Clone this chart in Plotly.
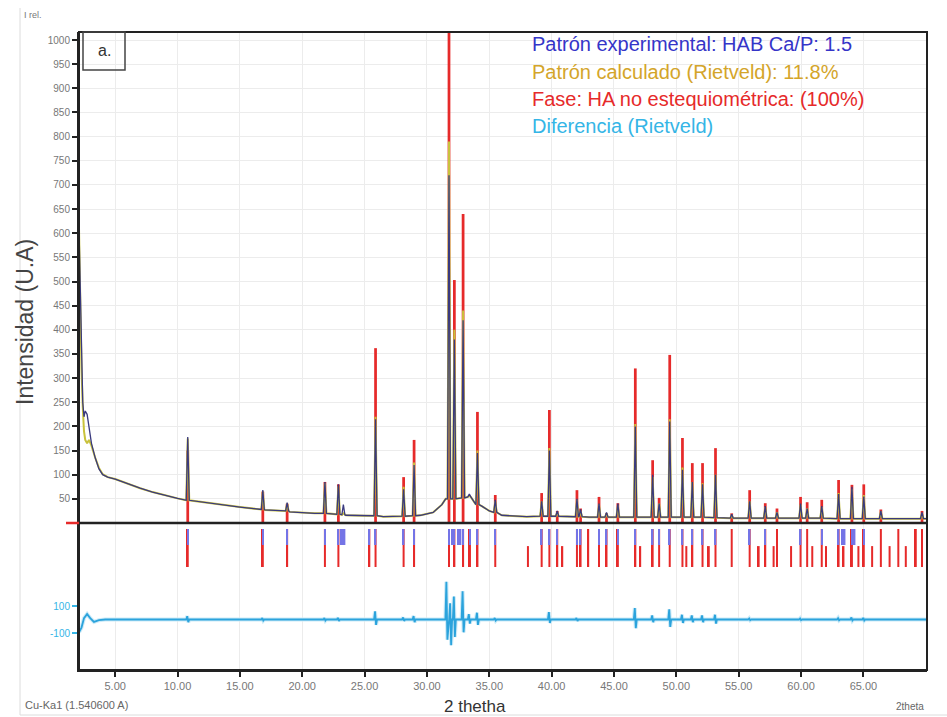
import plotly.graph_objects as go

# ---------------- DATA ----------------
# background points of the patterns (2theta, intensity)
bg_x      = [2.10, 2.20, 2.30, 2.40, 2.50, 2.60, 2.75, 2.90, 3.10, 3.40, 3.70, 4.00, 4.40, 5.00,
             6.00, 7.00, 8.00, 9.00, 10.00, 11.50, 13.00, 15.00, 17.00, 19.00, 21.00, 23.50,
             25.00, 26.50, 27.50, 29.50, 30.50, 31.20, 31.50, 33.40, 34.40, 35.00, 36.00, 38.00,
             40.50, 43.00, 47.00, 50.00, 55.00, 60.00, 65.00, 70.10]
bg_exp    = [610, 470, 330, 250, 220, 232, 225, 195, 165, 135, 112, 100, 95, 91,
             81, 72, 64, 57, 51, 45, 39, 33, 27, 23, 20, 16,
             15, 13, 14, 16, 22, 38, 50, 55, 35, 25, 16, 13,
             14, 12, 12, 12, 10, 10, 9, 9]
bg_calc   = [610, 450, 320, 240, 190, 172, 165, 172, 160, 135, 114, 101, 95, 91,
             81, 72, 64, 57, 51, 45, 39, 33, 27, 23, 20, 16,
             15, 13, 14, 16, 22, 38, 50, 52, 35, 25, 16, 13,
             14, 12, 12, 12, 10, 10, 9, 9]

# reflections: position, background level under the peak, experimental top, calculated top, phase top
peak_pos  = [10.82, 16.84, 18.79, 21.82, 22.90, 23.30, 25.88, 28.13, 28.97, 31.77, 32.20, 32.90,
             33.40, 34.05, 35.48, 39.20, 39.82, 40.45, 42.03, 42.32, 43.80, 44.40, 45.31, 46.71,
             48.10, 48.62, 49.47, 50.49, 51.28, 52.10, 53.14, 54.44, 55.88, 57.13, 58.07, 59.96,
             60.49, 61.66, 63.01, 64.08, 65.03, 66.40, 69.70]
peak_base = [47, 28, 25, 20, 18, 17, 15, 14, 15, 50, 50, 52,
             54, 38, 22, 14, 14, 14, 13, 13, 12, 12, 12, 12,
             12, 12, 12, 12, 12, 12, 11, 10, 10, 10, 10, 10,
             10, 10, 9, 9, 9, 9, 9]
peak_exp  = [178, 68, 42, 85, 80, 38, 215, 70, 120, 720, 380, 420,
             60, 145, 48, 45, 150, 25, 50, 28, 40, 22, 40, 200,
             100, 40, 210, 110, 85, 80, 100, 18, 45, 35, 22, 40,
             30, 35, 60, 75, 55, 25, 22]
peak_calc = [175, 65, 40, 82, 76, 20, 220, 75, 125, 790, 400, 440,
             56, 150, 45, 45, 155, 22, 48, 25, 38, 20, 36, 205,
             95, 40, 215, 115, 85, 82, 100, 16, 45, 33, 22, 38,
             30, 33, 62, 70, 58, 24, 20]
phase_h   = [150, 65, 40, 85, 80, 0, 362, 95, 172, 1020, 503, 640,
             0, 230, 58, 62, 234, 25, 68, 30, 54, 20, 41, 320,
             130, 52, 348, 176, 124, 124, 155, 20, 68, 41, 30, 54,
             43, 48, 89, 79, 80, 28, 25]

# reflection tick marks below the pattern
tick_red_pos = [10.82, 16.84, 18.79, 21.82, 22.90, 25.38, 25.88, 28.13, 28.97, 31.77, 32.20, 32.90,
                33.45, 34.05, 35.48, 38.10, 39.20, 39.82, 40.45, 40.85, 42.03, 42.32, 42.93, 43.80,
                44.40, 45.31, 46.71, 47.10, 48.10, 48.62, 49.47, 50.49, 50.80, 51.28, 52.10, 52.60,
                53.14, 54.44, 55.88, 56.60, 57.13, 57.80, 58.07, 59.20, 59.96, 60.49, 60.90, 61.66,
                62.00, 63.01, 63.40, 64.08, 64.60, 65.03, 65.70, 66.40, 67.10, 67.80, 68.40, 69.20, 69.70]
tick_red_len = [1, 1, 1, 1, 1, 1, 1, 1, 1, 1, 1, 1,
                1, 1, 1, 0.55, 1, 1, 1, 0.55, 1, 1, 1, 1,
                1, 1, 1, 0.55, 1, 1, 1, 1, 0.55, 1, 1, 0.55,
                1, 1, 1, 0.55, 1, 0.55, 1, 0.55, 1, 1, 0.55, 1,
                0.55, 1, 0.55, 1, 0.55, 1, 0.55, 1, 0.55, 1, 0.55, 1, 1]
tick_blue_pos = [10.82, 16.84, 18.79, 21.82, 22.90, 23.10, 23.25, 23.40, 25.38, 25.88, 28.13, 28.97,
                 31.77, 32.05, 32.20, 32.50, 32.70, 32.90, 33.45, 34.05, 35.48, 39.20, 39.82, 40.45,
                 42.03, 42.32, 43.80, 44.40, 45.31, 46.71, 48.10, 48.62, 49.47, 50.49, 51.28, 52.10,
                 53.14, 55.88, 57.13, 59.96, 61.66, 63.01, 63.30, 63.50, 64.08, 64.30, 65.03]

# difference curve: leading points, then wiggles (position, upper excursion, lower excursion)
diff_lead_x = [2.10, 2.30, 2.50, 2.75, 3.00, 3.30, 3.70, 4.20]
diff_lead_y = [-95, -60, 10, 40, 10, -18, -5, 0]
diff_pos = [10.82, 16.84, 21.82, 22.90, 25.88, 28.13, 28.97, 31.60, 31.90, 32.20, 32.90, 33.40,
            34.05, 35.48, 39.82, 42.03, 46.71, 48.10, 49.47, 50.49, 51.28, 52.10, 53.14, 55.88,
            59.96, 63.01, 64.08, 65.03]
diff_hi  = [25, 10, 10, 12, 60, 15, 25, 280, 120, 170, 210, 40,
            50, 10, 55, 10, 85, 30, 75, 35, 30, 30, 35, 8,
            8, 10, 15, 12]
diff_lo  = [-20, -8, -8, -10, -40, -10, -20, -150, -190, -130, -95, -30,
            -40, -8, -25, -10, -65, -20, -55, -25, -20, -20, -30, -5,
            -5, -6, -8, -8]

x_ticks = [5, 10, 15, 20, 25, 30, 35, 40, 45, 50, 55, 60, 65]
y_ticks = list(range(50, 1001, 50))

legend_lines = ["Patrón experimental: HAB Ca/P: 1.5",
                "Patrón calculado (Rietveld): 11.8%",
                "Fase: HA no estequiométrica: (100%)",
                "Diferencia (Rietveld)"]

# ---------------- STYLE / LAYOUT CONSTANTS ----------------
W, H = 947, 717
L, R, T, B = 79, 927, 32, 670
FONT = "Liberation Sans, Arial, sans-serif"
C_EXP, C_EXP_TXT = "#3a3a7e", "#3535c8"
C_CALC, C_CALC_TXT = "#c9c23c", "#d4a52a"
C_RED = "#e62a2a"
C_DIFF, C_DIFF_TXT = "#2ba3dc", "#35b5e6"
HALF = 0.12  # half base width of drawn peaks (deg)

Y2_ZERO_PX, Y2_SCALE = 619.5, 7.41   # difference panel mapping


def px(x):
    return (x - L) / (R - L)


def py(y):
    return (B - y) / (B - T)


def y2(pix):
    return (Y2_ZERO_PX - pix) * Y2_SCALE


MAIN_DOM0 = (B - 523) / (B - T)
MAIN_TOP = (523 - T) / 0.483


def build_curve(bx, by, pos, base, top):
    pts = [(x, y) for x, y in zip(bx, by) if all(abs(x - p) > HALF for p in pos)]
    for p, b, t in zip(pos, base, top):
        pts += [(p - HALF, b), (p, t), (p + HALF, b)]
    pts.sort()
    return [q[0] for q in pts], [q[1] for q in pts]


exp_x, exp_y = build_curve(bg_x, bg_exp, peak_pos, peak_base, peak_exp)
calc_x, calc_y = build_curve(bg_x, bg_calc, peak_pos, peak_base, peak_calc)

diff_x, diff_y = list(diff_lead_x), list(diff_lead_y)
for p, hi, lo in zip(diff_pos, diff_hi, diff_lo):
    diff_x += [p - 0.12, p - 0.04, p + 0.04, p + 0.12]
    diff_y += [0, hi, lo, 0]
diff_x.append(70.1)
diff_y.append(0)

TICK_TOP, TICK_BOT, BLUE_BOT = y2(529), y2(567), y2(545)

fig = go.Figure()

# phase sticks
fig.add_trace(go.Bar(x=peak_pos, y=phase_h, width=0.22, marker=dict(color=C_RED, line=dict(width=0)),
                     yaxis="y", hoverinfo="skip"))
# calculated and experimental patterns
fig.add_trace(go.Scatter(x=calc_x, y=calc_y, mode="lines", line=dict(color=C_CALC, width=2), yaxis="y"))
fig.add_trace(go.Scatter(x=exp_x, y=exp_y, mode="lines", line=dict(color=C_EXP, width=1.3), yaxis="y"))

# reflection ticks
fig.add_trace(go.Bar(x=tick_red_pos, y=[(TICK_TOP - TICK_BOT) * v for v in tick_red_len], base=TICK_BOT,
                     width=0.16, marker=dict(color=C_RED, line=dict(width=0)), yaxis="y2"))
fig.add_trace(go.Bar(x=tick_blue_pos, y=[TICK_TOP - BLUE_BOT] * len(tick_blue_pos), base=BLUE_BOT,
                     width=0.12, marker=dict(color="#7474e6", line=dict(width=0)), yaxis="y2"))
# difference
fig.add_trace(go.Scatter(x=diff_x, y=diff_y, mode="lines", line=dict(color="#cdebf8", width=4), yaxis="y2"))
fig.add_trace(go.Scatter(x=diff_x, y=diff_y, mode="lines", line=dict(color=C_DIFF, width=1.8), yaxis="y2"))

shapes = [
    dict(type="rect", xref="paper", yref="paper", x0=0, x1=1, y0=0, y1=1,
         line=dict(color="#222", width=2)),
    dict(type="line", xref="paper", yref="paper", x0=0, x1=1, y0=MAIN_DOM0, y1=MAIN_DOM0,
         line=dict(color="#222", width=2.5)),
    dict(type="line", xref="paper", yref="paper", x0=px(66), x1=0, y0=MAIN_DOM0, y1=MAIN_DOM0,
         line=dict(color=C_RED, width=2.5)),
    dict(type="rect", xref="paper", yref="paper", x0=px(83), x1=px(125), y0=py(70), y1=py(32),
         line=dict(color="#444", width=1.5)),
    dict(type="line", xref="paper", yref="paper", x0=px(20), x1=px(20), y0=py(715), y1=py(8),
         line=dict(color="#dcdcdc", width=1)),
    dict(type="line", xref="paper", yref="paper", x0=px(20), x1=px(947), y0=py(715), y1=py(715),
         line=dict(color="#dcdcdc", width=1)),
]


def note(text, x, y, size, color, xanchor="center", angle=0):
    return dict(text=text, x=px(x), y=py(y), xref="paper", yref="paper", xanchor=xanchor,
                yanchor="middle", showarrow=False, textangle=angle,
                font=dict(family=FONT, size=size, color=color))


ann = []
legend_colors = [C_EXP_TXT, C_CALC_TXT, C_RED, C_DIFF_TXT]
for i, (txt, col) in enumerate(zip(legend_lines, legend_colors)):
    ann.append(note(txt, 530, 44 + 27.5 * i, 20, col, xanchor="left"))
ann += [
    note("a.", 104, 51, 16, "#333"),
    note("Intensidad (U.A)", 25, 322, 23, "#444", angle=-90),
    note("I rel.", 22, 15, 9, "#777", xanchor="left"),
    note("2 thetha", 475, 706, 17, "#333"),
    note("Cu-Ka1 (1.540600 A)", 23, 705, 11, "#666", xanchor="left"),
    note("2theta", 926, 706, 10, "#666", xanchor="right"),
]

fig.update_layout(
    width=W, height=H, margin=dict(l=L, r=W - R, t=T, b=H - B),
    paper_bgcolor="white", plot_bgcolor="white", showlegend=False, barmode="overlay",
    font=dict(family=FONT),
    xaxis=dict(range=[2.1, 70.1], tickvals=x_ticks, ticktext=[f"{v:.2f}" for v in x_ticks],
               ticks="outside", ticklen=5, tickwidth=2, tickcolor="#222",
               showline=True, linecolor="#222", linewidth=2, showgrid=True, gridcolor="#ececec",
               zeroline=False, tickfont=dict(size=11, color="#777"), anchor="y2"),
    yaxis=dict(domain=[MAIN_DOM0, 1], range=[0, MAIN_TOP], tickvals=y_ticks,
               ticks="outside", ticklen=5, tickwidth=2, tickcolor="#222",
               showline=True, linecolor="#222", linewidth=2, showgrid=True, gridcolor="#ececec",
               zeroline=False, tickfont=dict(size=10, color="#777")),
    yaxis2=dict(domain=[0, MAIN_DOM0], range=[y2(B), y2(523)], tickvals=[-100, 100],
                ticktext=["-100", "100"], ticks="outside", ticklen=5, tickwidth=2, tickcolor=C_DIFF_TXT,
                showline=True, linecolor="#222", linewidth=2, showgrid=False, zeroline=False,
                tickfont=dict(size=10, color=C_DIFF_TXT)),
    shapes=shapes, annotations=ann,
)

fig.write_html("out.html")
